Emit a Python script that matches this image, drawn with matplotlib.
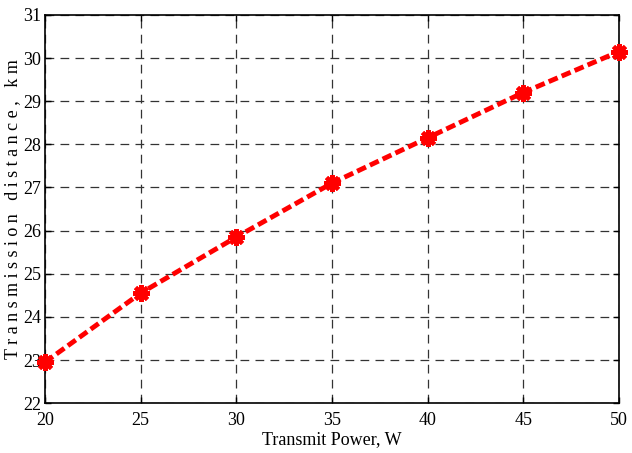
import matplotlib.pyplot as plt

# transmit power (W) vs transmission distance (km)
power = [20, 25, 30, 35, 40, 45, 50]
distance = [22.95, 24.55, 25.85, 27.1, 28.15, 29.2, 30.15]
xticks = [20, 25, 30, 35, 40, 45, 50]
yticks = [22, 23, 24, 25, 26, 27, 28, 29, 30, 31]

plt.rcParams['font.family'] = ['Liberation Serif', 'DejaVu Serif']

fig = plt.figure(figsize=(6.32, 4.53), dpi=100)
ax = fig.add_axes([0.0712, 0.110, 0.908, 0.857])

ax.plot(power, distance, color='red', linestyle='--', linewidth=3.5,
        dashes=(2.0, 0.9), marker=(8, 2, 0), markersize=12,
        markeredgewidth=3, markeredgecolor='red', clip_on=False, zorder=5)

ax.set_xlim(20, 50)
ax.set_ylim(22, 31)
ax.set_xticks(xticks)
ax.set_yticks(yticks)
ax.grid(True, color='#333333', linestyle=(0, (7, 5)), linewidth=0.9)
ax.tick_params(direction='in', length=4, width=1, labelsize=13,
               top=True, right=True)
ax.tick_params(axis='x', pad=6)
ax.tick_params(axis='y', pad=3)
for s in ax.spines.values():
    s.set_linewidth(1.2)

ax.set_xlabel('Transmit Power, W', fontsize=13, labelpad=2)
ax.set_ylabel('T r a n s m i s s i o n   d i s t a n c e ,   k m', fontsize=13, labelpad=1)

fig.savefig('out.png', dpi=100)
